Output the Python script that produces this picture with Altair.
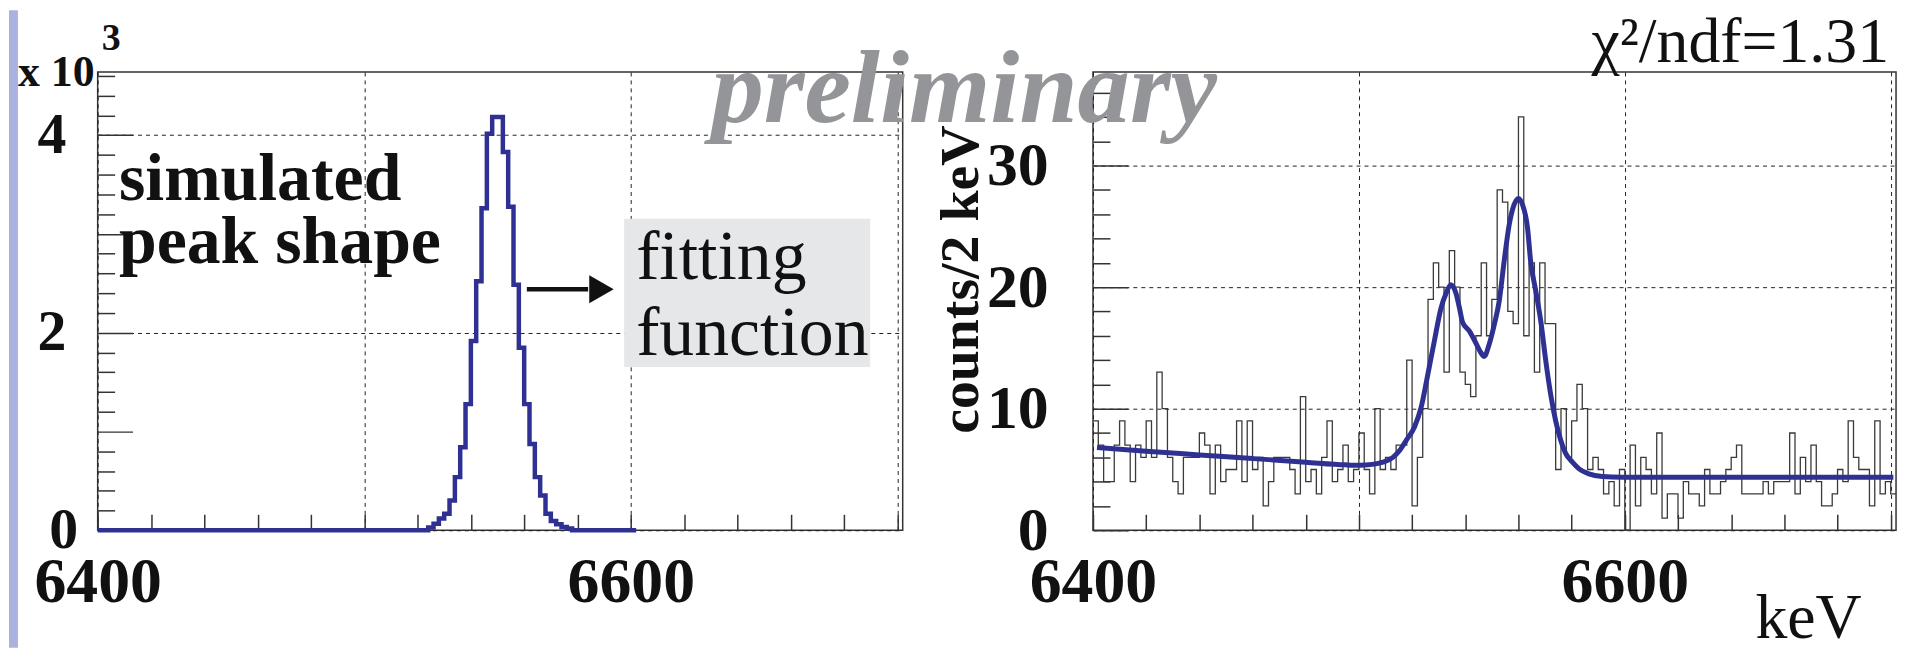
import altair as alt
import pandas as pd

# ---------------- values ----------------
BIN_START = 6400   # keV, first bin edge of both histograms
BIN_WIDTH = 2      # keV per bin

# Left panel: simulated peak shape (counts per 2 keV bin, 6400 ... 6602 keV)
sim_counts = [
    0, 0, 0, 0, 0, 0, 0, 0, 0, 0,                         # 6400-6418
    0, 0, 0, 0, 0, 0, 0, 0, 0, 0,                         # 6420-6438
    0, 0, 0, 0, 0, 0, 0, 0, 0, 0,                         # 6440-6458
    0, 0, 0, 0, 0, 0, 0, 0, 0, 0,                         # 6460-6478
    0, 0, 0, 0, 0, 0, 0, 0, 0, 0,                         # 6480-6498
    0, 0, 0, 0, 0, 0, 0, 0, 0, 0,                         # 6500-6518
    0, 0, 27, 67, 118, 168, 302, 538, 840, 1277,          # 6520-6538
    1915, 2520, 3259, 4015, 4183, 4183, 3830, 3276, 2486, 1848,  # 6540-6558
    1277, 874, 538, 353, 168, 94, 60, 34, 17, 0,          # 6560-6578
    0, 0, 0, 0, 0, 0, 0, 0, 0, 0,                         # 6580-6598
    0,                                                    # 6600
]

# Right panel: measured spectrum (counts per 2 keV bin, 6400 ... 6702 keV)
spec_counts = [
    9, 7, 4, 4, 7, 9, 7, 4, 7, 6,          # 6400
    9, 6, 13, 10, 6, 4, 3, 6, 6, 6,        # 6420
    8, 7, 3, 7, 4, 5, 5, 9, 4, 9,          # 6440
    5, 6, 2, 4, 6, 6, 6, 5, 3, 11,         # 6460
    4, 5, 3, 6, 9, 4, 5, 7, 4, 5,          # 6480
    8, 5, 3, 10, 5, 6, 5, 7, 7, 14,        # 6500
    2, 6, 10, 19, 22, 20, 13, 23, 20, 13,  # 6520
    12, 11, 16, 22, 16, 19, 28, 27, 18, 17,  # 6540
    34, 16, 22, 13, 22, 17, 17, 5, 10, 6,  # 6560
    9, 12, 10, 5, 6, 5, 3, 4, 2, 5,        # 6580
    0, 7, 2, 6, 5, 3, 8, 1, 3, 3,          # 6600
    1, 4, 3, 3, 2, 5, 3, 3, 4, 5,          # 6620
    6, 7, 3, 3, 3, 3, 4, 3, 4, 4,          # 6640
    4, 8, 3, 6, 4, 7, 4, 2, 2, 3,          # 6660
    5, 4, 9, 6, 5, 5, 2, 9, 3, 4,          # 6680
    3,                                     # 6700
]

# Right panel: fitted function
fit_kev = [6401.5, 6420, 6440, 6460, 6480, 6495, 6500, 6505, 6509, 6512.8,
           6515.3, 6517.8, 6520.9, 6523.4, 6525.9, 6528.4, 6530.9, 6532.8, 6534.6, 6536.5,
           6537.8, 6539, 6541.5, 6544, 6545.9, 6547.1, 6549, 6550.9, 6552.8, 6554.6,
           6556.5, 6558.4, 6560, 6561.5, 6563.4, 6564.6, 6566.5, 6568.4, 6570.3, 6572.1,
           6574, 6575.9, 6577.8, 6580.3, 6582.8, 6586.5, 6591.5, 6599, 6650, 6701]
fit_counts = [6.8, 6.5, 6.2, 5.9, 5.6, 5.38, 5.35, 5.42, 5.6, 6.0,
              6.56, 7.4, 8.5, 10.1, 12.8, 15.6, 18.3, 19.5, 20.2, 19.5,
              18.3, 17.1, 16.4, 15.4, 14.6, 14.3, 15.3, 16.9, 18.9, 22.1,
              25.1, 26.8, 27.3, 26.8, 24.9, 22.1, 19.7, 17.2, 13.9, 11.2,
              9.0, 7.4, 6.3, 5.6, 5.05, 4.64, 4.43, 4.37, 4.37, 4.37]

# axis tick / label positions
x_domain = [6400, 6702]
x_grid_values = [6400, 6500, 6600, 6700]
x_minor_ticks = [6400, 6420, 6440, 6460, 6480, 6500, 6520, 6540, 6560, 6580,
                 6600, 6620, 6640, 6660, 6680, 6700]
yL_domain = [0, 4640]
yL_label_values = [0, 2000, 4000]
yL_minor_ticks = [0, 200, 400, 600, 800, 1000, 1200, 1400, 1600, 1800, 2000, 2200,
                  2400, 2600, 2800, 3000, 3200, 3400, 3600, 3800, 4000, 4200, 4400, 4600]
yR_domain = [0, 37.7]
yR_label_values = [0, 10, 20, 30]
yR_minor_ticks = [0, 2, 4, 6, 8, 10, 12, 14, 16, 18, 20, 22, 24, 26, 28, 30, 32, 34, 36]

# annotations
left_notes_text = ["simulated", "peak shape"]
left_notes_kev = [6408, 6408]
left_notes_counts = [3347, 2702]
fit_notes_text = ["fitting", "function"]
fit_notes_kev = [6602, 6602]
fit_notes_counts = [2540, 1774]
fit_box = {"k1": 6597.5, "k2": 6689.8, "c1": 1653, "c2": 3155}
arrow = {"k1": 6561, "k2": 6584, "head": 6589, "c": 2440}

# ---------------- styling ----------------
FONT = "Liberation Serif"
BLUE = "#2e3192"
GRID = "#222222"
TICK = "#333333"
WL, WR, H = 808, 806, 460

sim_df = pd.DataFrame({
    "keV": [BIN_START + BIN_WIDTH * i for i in range(len(sim_counts) + 1)],
    "counts": sim_counts + [sim_counts[-1]],
})
spec_df = pd.DataFrame({
    "keV": [BIN_START + BIN_WIDTH * i for i in range(len(spec_counts) + 1)],
    "counts": spec_counts + [spec_counts[-1]],
})
fit_df = pd.DataFrame({"keV": fit_kev, "counts": fit_counts})

xs = alt.Scale(domain=x_domain, nice=False, zero=False)
ysL = alt.Scale(domain=yL_domain, nice=False, zero=False)
ysR = alt.Scale(domain=yR_domain, nice=False, zero=False)


def x_label_axis(fs, **kw):
    return alt.Axis(
        orient="bottom", values=x_grid_values, format="d",
        labelExpr="datum.value == 6400 || datum.value == 6600 ? datum.label : ''",
        grid=True, gridDash=[4, 4], gridColor=GRID, gridWidth=1,
        ticks=False, tickSize=0, domain=False,
        labelFont=FONT, labelFontSize=fs, labelFontWeight="bold", labelColor="#111111",
        labelPadding=20, labelFlush=False, labelOverlap=False, **kw)


def x_tick_axis():
    return alt.Axis(orient="top", offset=-H, values=x_minor_ticks, labels=False,
                    grid=False, domain=False, ticks=True, tickSize=16,
                    tickColor=TICK, tickWidth=1.5, title=None)


def y_tick_axis(values, major, width):
    return alt.Axis(orient="right", offset=-width, values=values, labels=False,
                    grid=False, domain=False, ticks=True,
                    tickSize={"condition": {"test": f"datum.value % {major} === 0", "value": 35},
                              "value": 17},
                    tickColor=TICK, tickWidth=1.5, title=None)


one = pd.DataFrame({"a": [0]})

# ---------------- left panel ----------------
yL_label_axis = alt.Axis(
    values=yL_label_values, labelExpr="format(datum.value / 1000, 'd')",
    grid=True, gridDash=[4, 4], gridColor=GRID, gridWidth=1,
    ticks=False, tickSize=0, domain=False,
    labelFont=FONT, labelFontSize=58, labelFontWeight="bold", labelColor="#111111",
    labelPadding={"condition": {"test": "datum.value === 0", "value": 20}, "value": 32},
    title=None)

sim_line = alt.Chart(sim_df).mark_line(
    interpolate="step-after", color=BLUE, strokeWidth=4.5).encode(
    x=alt.X("keV:Q", scale=xs, axis=x_label_axis(64, title=None)),
    y=alt.Y("counts:Q", scale=ysL, axis=yL_label_axis))

sim_ticks = alt.Chart(sim_df).mark_line(opacity=0).encode(
    x=alt.X("keV:Q", scale=xs, axis=x_tick_axis()),
    y=alt.Y("counts:Q", scale=ysL, axis=y_tick_axis(yL_minor_ticks, 1000, WL)))

box = alt.Chart(pd.DataFrame([fit_box])).mark_rect(color="#e6e7e8").encode(
    x=alt.X("k1:Q", scale=xs, axis=None), x2="k2:Q",
    y=alt.Y("c1:Q", scale=ysL, axis=None), y2="c2:Q")

left_notes = alt.Chart(pd.DataFrame({"t": left_notes_text, "keV": left_notes_kev,
                                     "counts": left_notes_counts})).mark_text(
    font=FONT, fontSize=68, fontWeight="bold", align="left", baseline="alphabetic",
    color="#111111").encode(
    x=alt.X("keV:Q", scale=xs, axis=None), y=alt.Y("counts:Q", scale=ysL, axis=None),
    text="t:N")

fit_notes = alt.Chart(pd.DataFrame({"t": fit_notes_text, "keV": fit_notes_kev,
                                    "counts": fit_notes_counts})).mark_text(
    font=FONT, fontSize=70, align="left", baseline="alphabetic", color="#111111").encode(
    x=alt.X("keV:Q", scale=xs, axis=None), y=alt.Y("counts:Q", scale=ysL, axis=None),
    text="t:N")

arrow_shaft = alt.Chart(pd.DataFrame([arrow])).mark_rule(color="#111111", strokeWidth=4.5).encode(
    x=alt.X("k1:Q", scale=xs, axis=None), x2="k2:Q",
    y=alt.Y("c:Q", scale=ysL, axis=None))
arrow_head = alt.Chart(pd.DataFrame([arrow])).mark_point(
    shape="triangle-right", filled=True, size=800, color="#111111", opacity=1).encode(
    x=alt.X("head:Q", scale=xs, axis=None), y=alt.Y("c:Q", scale=ysL, axis=None))

exp_base = alt.Chart(pd.DataFrame({"t": ["x 10"]})).mark_text(
    font=FONT, fontSize=44, fontWeight="bold", align="right", baseline="alphabetic",
    color="#111111").encode(text="t:N", x=alt.value(-3), y=alt.value(14))
exp_pow = alt.Chart(pd.DataFrame({"t": ["3"]})).mark_text(
    font=FONT, fontSize=38, fontWeight="bold", align="left", baseline="alphabetic",
    color="#111111").encode(text="t:N", x=alt.value(4), y=alt.value(-22))

stripe = alt.Chart(one).mark_rect(color="#a9b3dd").encode(
    x=alt.value(-89), x2=alt.value(-80), y=alt.value(-62), y2=alt.value(578))

left = alt.layer(
    stripe, sim_ticks, box, sim_line, arrow_shaft, arrow_head,
    left_notes, fit_notes, exp_base, exp_pow
).resolve_axis(x="independent", y="independent").properties(width=WL, height=H)

# ---------------- right panel ----------------
yR_label_axis = alt.Axis(
    values=yR_label_values, format="d",
    grid=True, gridDash=[4, 4], gridColor=GRID, gridWidth=1,
    ticks=False, tickSize=0, domain=False,
    labelFont=FONT, labelFontSize=62, labelFontWeight="bold", labelColor="#111111",
    labelPadding=45,
    title="counts/2 keV", titleFont=FONT, titleFontSize=56, titleFontWeight="bold",
    titleColor="#111111", titleAngle=270, titleX=-116, titleY=208,
    titleAlign="center", titleBaseline="alphabetic")

spec_line = alt.Chart(spec_df).mark_line(
    interpolate="step-after", color="#3a3a3a", strokeWidth=1.3).encode(
    x=alt.X("keV:Q", scale=xs, axis=x_label_axis(
        64, title="keV", titleFont=FONT, titleFontSize=64, titleFontWeight="normal",
        titleColor="#111111", titleX=771, titleY=108, titleAlign="right",
        titleBaseline="alphabetic")),
    y=alt.Y("counts:Q", scale=ysR, axis=yR_label_axis))

spec_ticks = alt.Chart(spec_df).mark_line(opacity=0).encode(
    x=alt.X("keV:Q", scale=xs, axis=x_tick_axis()),
    y=alt.Y("counts:Q", scale=ysR, axis=y_tick_axis(yR_minor_ticks, 10, WR)))

fit_line = alt.Chart(fit_df).mark_line(
    interpolate="monotone", color=BLUE, strokeWidth=5).encode(
    x=alt.X("keV:Q", scale=xs, axis=None), y=alt.Y("counts:Q", scale=ysR, axis=None))

chi = alt.Chart(pd.DataFrame({"t": ["χ²/ndf=1.31"]})).mark_text(
    font=FONT, fontSize=64, align="right", baseline="alphabetic", color="#111111").encode(
    text="t:N", x=alt.value(799), y=alt.value(-10))

prelim = alt.Chart(pd.DataFrame({"t": ["preliminary"]})).mark_text(
    font=FONT, fontSize=105, fontWeight="bold", fontStyle="italic", align="left",
    baseline="alphabetic", color="#939598").encode(
    text="t:N", x=alt.value(-383), y=alt.value(50))

right = alt.layer(
    spec_ticks, spec_line, fit_line, chi, prelim
).resolve_axis(x="independent", y="independent").properties(width=WR, height=H)

chart = alt.hconcat(left, right, spacing=191, bounds="flush").properties(
    padding=0
).configure(font=FONT).configure_view(stroke="#333333", strokeWidth=1.5)

chart.save("out.html", embed_options={"renderer": "svg", "actions": False})
